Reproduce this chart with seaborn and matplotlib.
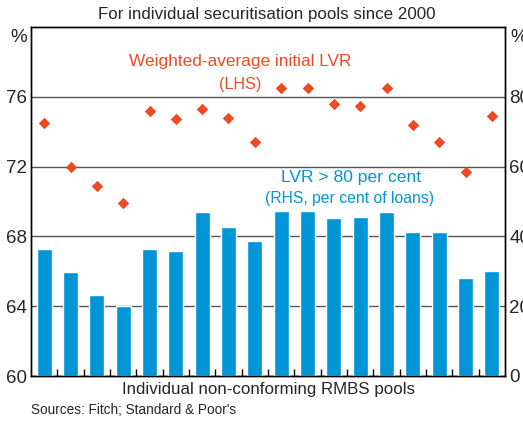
import matplotlib
matplotlib.use("Agg")
import matplotlib.pyplot as plt
import numpy as np
import pandas as pd
import seaborn as sns

# data
pools = [str(i) for i in range(1, 19)]
lvr_over_80 = [36.5, 29.7, 23.1, 20.0, 36.5, 35.7, 47.1, 42.6, 38.6,
               47.4, 47.4, 45.4, 45.7, 47.1, 41.4, 41.4, 28.0, 30.0]
weighted_lvr = [74.5, 72.0, 70.9, 69.9, 75.2, 74.7, 75.3, 74.8, 73.4,
                76.5, 76.5, 75.6, 75.5, 76.5, 74.4, 73.4, 71.7, 74.9]
left_ticks = [60, 64, 68, 72, 76]
right_ticks = [0, 20, 40, 60, 80]

blue = "#0095D6"
red = "#EF4A23"

sns.set_style("white")
plt.rcParams['font.family'] = ['Liberation Sans', 'DejaVu Sans']

df = pd.DataFrame({"pool": pools, "share": lvr_over_80,
                   "lvr": weighted_lvr, "pos": np.arange(len(pools))})

fig = plt.figure(figsize=(5.23, 4.23), dpi=100)
fig.subplots_adjust(left=31/523, right=505/523, top=1-27/423, bottom=1-376/423)
ax = fig.add_subplot(111)

# bars on the right-hand scale
sns.barplot(data=df, x="pool", y="share", color=blue, saturation=1,
            width=0.57, ax=ax, zorder=3)

# diamonds on the left-hand scale
ax2 = ax.twinx()
sns.scatterplot(data=df, x="pos", y="lvr", marker="D", color=red, s=34,
                edgecolor=red, linewidth=0, ax=ax2, zorder=4)

ax.set_ylim(0, 100)
ax.set_yticks(right_ticks)
ax.yaxis.tick_right()
ax.set_xlim(-0.5, len(pools) - 0.5)
ax.grid(axis="y", color="#555555", lw=1, zorder=0)
ax.set_axisbelow(True)

ax2.set_ylim(60, 80)
ax2.set_yticks(left_ticks)
ax2.yaxis.tick_left()
ax2.set_xlim(-0.5, len(pools) - 0.5)

for a in (ax, ax2):
    a.set_xlabel("")
    a.set_ylabel("")
    for s in a.spines.values():
        s.set_color("black")
        s.set_linewidth(1)
    a.tick_params(axis="y", length=0, labelsize=13.5, pad=3)

ax.set_xticks(np.arange(0.5, len(pools) - 1, 1))
ax.set_xticklabels([])
ax.tick_params(axis="x", bottom=True, direction="in", length=5, width=1,
               color="black")
ax2.tick_params(axis="x", bottom=False, labelbottom=False)

ax.text(-0.008, 0.97, "%", transform=ax.transAxes, ha="right", va="center",
        fontsize=13.5)
ax.text(1.012, 0.97, "%", transform=ax.transAxes, ha="left", va="center",
        fontsize=13.5)

ax2.text(7.44, 78.05, "Weighted-average initial LVR", color=red, ha="center",
         va="center", fontsize=12.4)
ax2.text(7.44, 76.7, "(LHS)", color=red, ha="center", va="center", fontsize=11.6)
ax2.text(11.65, 71.37, "LVR > 80 per cent", color=blue, ha="center",
         va="center", fontsize=12.6)
ax2.text(11.6, 70.17, "(RHS, per cent of loans)", color=blue, ha="center",
         va="center", fontsize=11.3)

fig.text(267/523, 1-14/423, "For individual securitisation pools since 2000",
         ha="center", va="center", fontsize=12.2)
fig.text(268/523, 1-389/423, "Individual non-conforming RMBS pools",
         ha="center", va="center", fontsize=12.2)
fig.text(31/523, 1-410/423, "Sources: Fitch; Standard & Poor's",
         ha="left", va="center", fontsize=9.8)

fig.savefig("out.png", dpi=100)
